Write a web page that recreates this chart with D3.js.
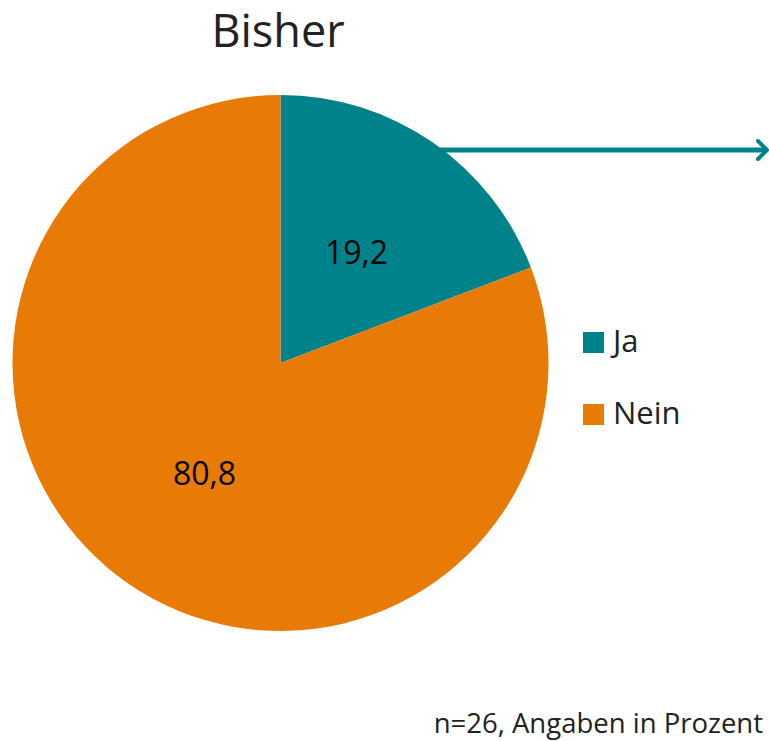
<!DOCTYPE html>
<html><head><meta charset="utf-8">
<script src="https://cdn.jsdelivr.net/npm/d3@7"></script>
<style>body{margin:0;background:#fff}svg{display:block}</style>
</head><body>
<svg id="c" width="769" height="741"></svg>
<script>
const categories = ["Ja", "Nein"];
const values = [19.2, 80.8];
const labels = ["19,2", "80,8"];
const colors = ["#00828A", "#E87A06"];
const title = "Bisher";
const note = "n=26, Angaben in Prozent";

const svg = d3.select("#c");
const font = "'Open Sans', sans-serif";
const cx = 280.5, cy = 363, r = 268;

svg.append("text").attr("x", 278).attr("y", 47).attr("text-anchor", "middle")
  .attr("font-family", font).attr("font-size", 45).attr("fill", "#222").text(title);

const pie = d3.pie().sort(null).value(d => d)(values);
const arc = d3.arc().innerRadius(0).outerRadius(r);
const g = svg.append("g").attr("transform", `translate(${cx},${cy})`);
g.selectAll("path").data(pie).join("path").attr("d", arc).attr("fill", (d, i) => colors[i]);

const labelArc = d3.arc().innerRadius(r * 0.5).outerRadius(r * 0.5);
g.selectAll("text.lbl").data(pie).join("text").attr("class", "lbl")
  .attr("transform", d => { const c = labelArc.centroid(d); return `translate(${c[0]},${c[1]})`; })
  .attr("text-anchor", "middle").attr("dy", "0.36em")
  .attr("font-family", font).attr("font-size", 32).attr("fill", "#000")
  .text((d, i) => labels[i]);

// arrow
svg.append("line").attr("x1", 436).attr("y1", 150).attr("x2", 766).attr("y2", 150)
  .attr("stroke", colors[0]).attr("stroke-width", 5);
svg.append("path").attr("d", "M758,141 L767,150 L758,159").attr("fill", "none")
  .attr("stroke", colors[0]).attr("stroke-width", 4).attr("stroke-linecap", "round").attr("stroke-linejoin", "round");

// legend
const lg = svg.append("g");
categories.forEach((c, i) => {
  const y = 332 + i * 72;
  lg.append("rect").attr("x", 583).attr("y", y).attr("width", 21).attr("height", 21).attr("fill", colors[i]);
  lg.append("text").attr("x", 613).attr("y", y + 20).attr("font-family", font)
    .attr("font-size", 31).attr("fill", "#222").text(c);
});

svg.append("text").attr("x", 763).attr("y", 733).attr("text-anchor", "end")
  .attr("font-family", font).attr("font-size", 27.5).attr("fill", "#222").text(note);
</script>
</body></html>
